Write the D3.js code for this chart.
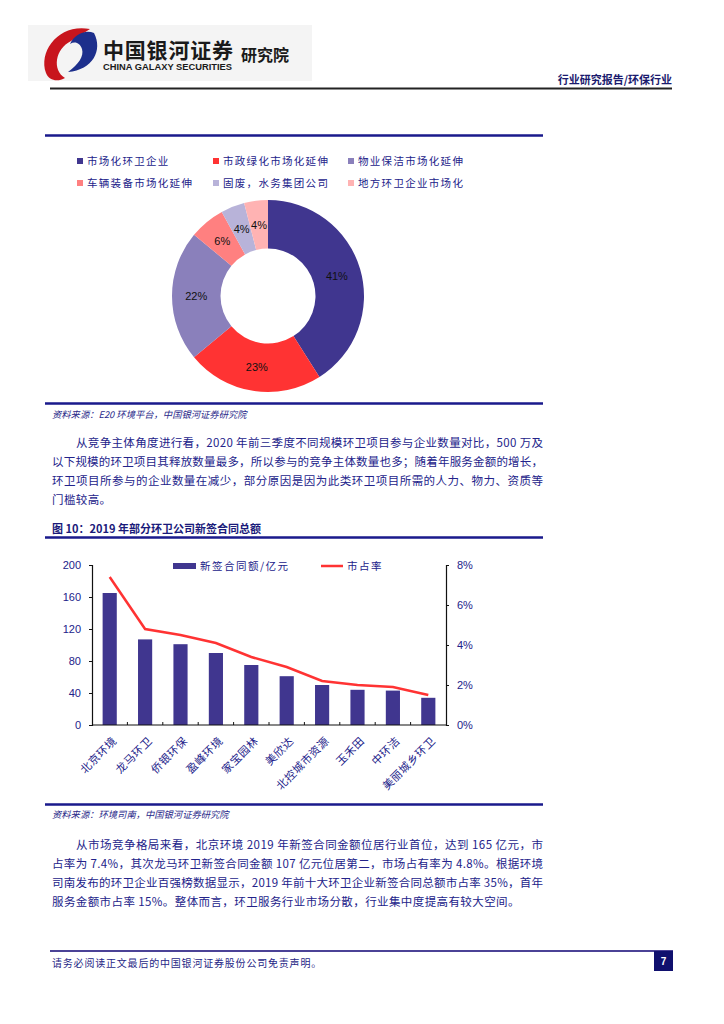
<!DOCTYPE html>
<html><head><meta charset="utf-8">
<script src="https://cdn.jsdelivr.net/npm/d3@7"></script>
<style>body{margin:0;background:#fff}svg{display:block}</style></head>
<body><svg id="c" width="724" height="1024"></svg>
<script>
// ---------- data ----------
const pieLabels = ['市场化环卫企业','市政绿化市场化延伸','物业保洁市场化延伸','车辆装备市场化延伸','固废，水务集团公司','地方环卫企业市场化'];
const pieValues = [41, 23, 22, 6, 4, 4];
const pieColors = ['#40368F','#FF3333','#8A80BB','#FF8080','#B8B3D9','#FFB3B3'];

const companies = ['北京环境','龙马环卫','侨银环保','盈峰环境','家宝园林','美欣达','北控城市资源','玉禾田','中环洁','美丽城乡环卫'];
const contractValues = [165, 107, 101, 90, 75, 61, 50, 44, 43, 34];
const marketShare = [7.4, 4.8, 4.5, 4.1, 3.4, 2.9, 2.2, 2.0, 1.9, 1.5];
const leftTicks = [0, 40, 80, 120, 160, 200];
const rightTicks = [0, 2, 4, 6, 8];
const seriesNames = ['新签合同额/亿元', '市占率'];

const para1 = [
  '从竞争主体角度进行看，2020 年前三季度不同规模环卫项目参与企业数量对比，500 万及',
  '以下规模的环卫项目其释放数量最多，所以参与的竞争主体数量也多；随着年服务金额的增长，',
  '环卫项目所参与的企业数量在减少，部分原因是因为此类环卫项目所需的人力、物力、资质等',
  '门槛较高。'
];
const para2 = [
  '从市场竞争格局来看，北京环境 2019 年新签合同金额位居行业首位，达到 165 亿元，市',
  '占率为 7.4%，其次龙马环卫新签合同金额 107 亿元位居第二，市场占有率为 4.8%。根据环境',
  '司南发布的环卫企业百强榜数据显示，2019 年前十大环卫企业新签合同总额市占率 35%，首年',
  '服务金额市占率 15%。整体而言，环卫服务行业市场分散，行业集中度提高有较大空间。'
];

// ---------- setup ----------
const svg = d3.select('#c');
const CJK = '"Noto Sans CJK SC", sans-serif';
const TXT = '#23238a';
svg.append('rect').attr('width',724).attr('height',1024).attr('fill','#fff');

// header
svg.append('rect').attr('x',28).attr('y',25).attr('width',284).attr('height',56).attr('fill','#f4f4f4');
svg.append('path').attr('d','M90,29 C60,23 38,50 46,73 C49,81 58,82 65,78 C52,70 55,49 71,41 C77,37 84,33 90,29 Z').attr('fill','#c8151d');
svg.append('path').attr('d','M94,33 C103,50 93,70 68,72 C79,64 84,56 82,49 C80,43 75,41 70,44 C74,35 85,29 94,33 Z').attr('fill','#1d2f8c');
svg.append('text').attr('x',103).attr('y',58).attr('font-family',CJK).attr('font-weight',700).attr('font-size',21).attr('fill','#1a1a1a').attr('textLength',130).text('中国银河证券');
svg.append('text').attr('x',241).attr('y',61).attr('font-family',CJK).attr('font-weight',700).attr('font-size',16).attr('fill','#1a1a1a').text('研究院');
svg.append('text').attr('x',103).attr('y',70).attr('font-family','"Liberation Sans", Arial, sans-serif').attr('font-weight',700).attr('font-size',8.5).attr('fill','#1a1a1a').attr('textLength',129).attr('lengthAdjust','spacingAndGlyphs').text('CHINA GALAXY SECURITIES');
svg.append('text').attr('x',672).attr('y',84).attr('text-anchor','end').attr('font-family',CJK).attr('font-weight',700).attr('font-size',11).attr('fill','#1a1a6e').text('行业研究报告/环保行业');
svg.append('rect').attr('x',50).attr('y',87.5).attr('width',622).attr('height',2).attr('fill','#222');

function hline(y, x1=45, x2=543, color='#1a1a8c', w=2.5){
  svg.append('rect').attr('x',x1).attr('y',y - w/2).attr('width',x2-x1).attr('height',w).attr('fill',color);
}
hline(135.5); hline(403.5); hline(537.5); hline(804.5);

// ---------- donut ----------
const legX = [77, 213, 348];
pieLabels.forEach((l,i)=>{
  const gx = legX[i%3], gy = i<3 ? 162 : 184;
  svg.append('rect').attr('x',gx).attr('y',gy-4).attr('width',6).attr('height',6).attr('fill',pieColors[i]);
  svg.append('text').attr('x',gx+10).attr('y',gy+3).attr('font-family',CJK).attr('font-size',10.5)
    .attr('letter-spacing',1.3).attr('fill',TXT).text(l);
});
const pie = d3.pie().sort(null).value(d=>d)(pieValues);
const arc = d3.arc().innerRadius(47.5).outerRadius(96);
const dg = svg.append('g').attr('transform','translate(268,296)');
dg.selectAll('path').data(pie).join('path').attr('d',arc).attr('fill',(d,i)=>pieColors[i]);
dg.selectAll('text').data(pie).join('text')
  .attr('transform',d=>{const c=arc.centroid(d);return `translate(${c[0]},${c[1]})`;})
  .attr('text-anchor','middle').attr('dy','0.35em')
  .attr('font-family','"Liberation Sans", Arial, sans-serif').attr('font-size',11).attr('fill','#111')
  .text(d=>d.data+'%');

// source + paragraphs
function source(y, t){
  svg.append('text').attr('x',52).attr('y',y).attr('font-family',CJK).attr('font-style','italic')
    .attr('font-size',9.3).attr('fill','#2a2a8a').text(t);
}
source(418,'资料来源：E20 环境平台，中国银河证券研究院');
source(818,'资料来源：环境司南，中国银河证券研究院');

function para(lines, y0){
  lines.forEach((l,i)=>{
    const x = i===0 ? 76 : 52;
    const t = svg.append('text').attr('x',x).attr('y',y0 + i*19).attr('font-family',CJK)
      .attr('font-size',11.5).attr('fill',TXT).text(l);
    if(i < lines.length-1) t.attr('textLength',543-x).attr('lengthAdjust','spacing');
    else t.attr('letter-spacing',0.4);
  });
}
para(para1, 447);
para(para2, 849);

svg.append('text').attr('x',52).attr('y',533).attr('font-family',CJK).attr('font-weight',700)
  .attr('font-size',11).attr('fill','#1a1a7a').text('图 10：2019 年部分环卫公司新签合同总额');

// ---------- bar + line chart ----------
const x0 = 92, x1 = 446, yTop = 565, yBot = 725;
const xb = d3.scaleBand().domain(companies).range([x0,x1]).paddingInner(0.6).paddingOuter(0.3);
const yl = d3.scaleLinear().domain([0,200]).range([yBot,yTop]);
const yr = d3.scaleLinear().domain([0,8]).range([yBot,yTop]);
const ch = svg.append('g');
ch.selectAll('rect.bar').data(contractValues).join('rect').attr('class','bar')
  .attr('x',(d,i)=>xb(companies[i])).attr('width',xb.bandwidth())
  .attr('y',d=>yl(d)).attr('height',d=>yBot-yl(d)).attr('fill','#40368F');
const line = d3.line().x((d,i)=>xb(companies[i])+xb.bandwidth()/2).y(d=>yr(d));
ch.append('path').attr('d',line(marketShare)).attr('fill','none').attr('stroke','#FF3333').attr('stroke-width',2.5);

const axFont = '"Liberation Sans", Arial, sans-serif';
const la = ch.append('g').attr('transform',`translate(${x0},0)`)
  .call(d3.axisLeft(yl).tickValues(leftTicks).tickSize(3).tickPadding(8));
const ra = ch.append('g').attr('transform',`translate(${x1},0)`)
  .call(d3.axisRight(yr).tickValues(rightTicks).tickSize(3).tickPadding(8).tickFormat(d=>d+'%'));
[la,ra].forEach(a=>{
  a.select('.domain').attr('stroke','#111').attr('stroke-width',1.2);
  a.selectAll('.tick line').attr('stroke','#111');
  a.selectAll('.tick text').attr('font-family',axFont).attr('font-size',11).attr('fill','#22228a');
});
// x axis
const xa = ch.append('g').attr('transform',`translate(0,${yBot})`);
xa.append('line').attr('x1',x0).attr('x2',x1).attr('stroke','#111').attr('stroke-width',1.2);
const step = (x1-x0)/companies.length;
d3.range(1,companies.length).forEach(i=>{
  xa.append('line').attr('x1',x0+i*step).attr('x2',x0+i*step).attr('y1',0).attr('y2',-3).attr('stroke','#111');
});
xa.selectAll('text').data(companies).join('text')
  .attr('transform',d=>`translate(${xb(d)+xb.bandwidth()/2+5},${14}) rotate(-45)`)
  .attr('text-anchor','end').attr('dy','0.35em')
  .attr('font-family',CJK).attr('font-size',11).attr('fill','#22228a').attr('letter-spacing',0.5).text(d=>d);

// legend
svg.append('rect').attr('x',173).attr('y',563).attr('width',23).attr('height',6).attr('fill','#40368F');
svg.append('text').attr('x',200).attr('y',570).attr('font-family',CJK).attr('font-size',10.5).attr('letter-spacing',1.5).attr('fill','#22228a').text(seriesNames[0]);
svg.append('line').attr('x1',321).attr('x2',343).attr('y1',566).attr('y2',566).attr('stroke','#FF3333').attr('stroke-width',2.5);
svg.append('text').attr('x',347).attr('y',570).attr('font-family',CJK).attr('font-size',10.5).attr('letter-spacing',1.5).attr('fill','#22228a').text(seriesNames[1]);

// ---------- footer ----------
hline(951, 50, 673, '#4b4296', 2);
svg.append('rect').attr('x',654).attr('y',951).attr('width',19).attr('height',20).attr('fill','#10106e');
svg.append('text').attr('x',663.5).attr('y',965).attr('text-anchor','middle').attr('font-family',axFont).attr('font-weight',700).attr('font-size',10).attr('fill','#fff').text('7');
svg.append('text').attr('x',52).attr('y',967).attr('font-family',CJK).attr('font-size',10).attr('letter-spacing',0.8).attr('fill','#1f1f86').text('请务必阅读正文最后的中国银河证券股份公司免责声明。');
</script></body></html>
